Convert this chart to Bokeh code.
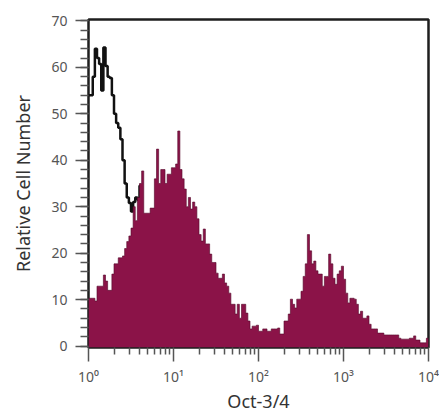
import numpy as np
from bokeh.plotting import figure
from bokeh.models import FixedTicker, SingleIntervalTicker, CustomJSTickFormatter, Range1d
from bokeh.embed import file_html
from bokeh.resources import INLINE

# ---------------- data ----------------
x_decades = (0, 4)          # 10^0 .. 10^4
n_bins = 160

oct34_counts = [
    10.3, 10.3, 10.3, 9.7, 12.9, 12.9, 12.9, 15.3, 14.0, 12.0,
    12.0, 15.5, 17.7, 17.7, 19.0, 19.0, 19.4, 21.0, 22.5, 23.7,
    25.4, 30.0, 27.0, 32.0, 35.0, 37.7, 28.6, 28.6, 28.6, 29.7,
    29.7, 36.0, 42.4, 35.0, 38.0, 38.0, 35.0, 37.0, 37.0, 38.4,
    38.4, 39.2, 46.3, 38.0, 36.0, 33.8, 30.0, 32.0, 29.5, 31.0,
    30.0, 27.4, 24.0, 22.6, 25.2, 22.0, 22.0, 19.8, 18.0, 18.0,
    15.7, 14.6, 14.6, 15.5, 13.6, 12.9, 11.4, 9.0, 9.0, 6.9,
    9.0, 6.0, 9.0, 9.0, 7.1, 5.4, 3.7, 4.3, 4.3, 4.5,
    3.2, 3.2, 3.7, 3.7, 3.2, 3.2, 3.7, 3.7, 3.7, 3.9,
    2.6, 2.6, 5.4, 5.4, 6.9, 10.1, 9.0, 8.2, 10.1, 10.1,
    11.8, 15.0, 17.7, 24.0, 20.5, 17.7, 18.3, 16.2, 15.5, 15.5,
    12.9, 15.0, 15.0, 19.8, 17.7, 14.6, 13.3, 15.5, 16.2, 17.2,
    14.4, 11.4, 9.3, 10.3, 10.3, 10.1, 9.0, 6.9, 7.5, 6.0,
    6.0, 6.5, 4.7, 3.7, 3.7, 3.7, 2.8, 2.8, 2.8, 2.4,
    2.4, 2.4, 2.4, 2.4, 2.4, 2.4, 1.7, 1.5, 1.5, 1.5,
    1.5, 1.7, 1.7, 2.2, 1.3, 1.3, 0.7, 0.7, 0.7, 1.7,
]

control_counts = [
    54.0, 54.0, 58.0, 64.0, 62.0, 60.7, 55.0, 64.3, 60.3, 58.0,
    57.7, 54.0, 50.0, 48.0, 47.0, 44.5, 40.0, 35.0, 32.0, 30.8,
    29.0, 31.0, 32.0, 31.5, 34.5, 28.0, 20.0, 14.0, 9.0, 5.0,
    3.0, 1.5, 0.5,
]

y_ticks = [0, 10, 20, 30, 40, 50, 60, 70]
x_ticks = [1, 10, 100, 1000, 10000]
x_tick_labels = ["10\u2070", "10\u00b9", "10\u00b2", "10\u00b3", "10\u2074"]
x_label = "Oct-3/4"
y_label = "Relative Cell Number"

# ---------------- derived ----------------
edges = 10 ** np.linspace(x_decades[0], x_decades[1], n_bins + 1)
oct_y = list(oct34_counts) + [oct34_counts[-1]]
ctrl_edges = edges[: len(control_counts) + 1]
ctrl_y = list(control_counts) + [control_counts[-1]]

y_start, y_end = -0.3, 70.3
MAROON = "#8B1348"
FONT = "Noto Sans"

p = figure(
    width=439, height=415,
    x_axis_type="log",
    x_range=Range1d(10 ** x_decades[0], 10 ** x_decades[1]),
    y_range=Range1d(y_start, y_end),
    output_backend="svg", toolbar_location=None,
    min_border_left=88, min_border_right=11,
    min_border_top=19, min_border_bottom=68,
)
p.grid.visible = False
p.background_fill_color = "white"
p.border_fill_color = "white"
p.outline_line_color = "#1e1e1e"
p.outline_line_width = 2.5

# control histogram (black outline), drawn first so the fill hides its lower part
p.step(x=ctrl_edges, y=ctrl_y, mode="after", line_color="#111111", line_width=2.5)

# Oct-3/4 histogram
p.varea_step(x=edges, y1=y_start, y2=oct_y, step_mode="after", fill_color=MAROON)
p.step(x=edges, y=oct_y, mode="after", line_color="#5a0b2e", line_width=0.8, line_alpha=0.8)

# x axis
xa = p.xaxis[0]
minor = [m * 10 ** k for k in range(x_decades[0], x_decades[1]) for m in range(2, 10)]
xa.ticker = FixedTicker(ticks=x_ticks, minor_ticks=minor)
xa.formatter = CustomJSTickFormatter(args=dict(labels=x_tick_labels),
                                     code="return labels[Math.round(Math.log10(tick))];")
xa.axis_line_color = None
xa.major_tick_in = 0
xa.major_tick_out = 14
xa.minor_tick_in = 0
xa.minor_tick_out = 7
xa.major_tick_line_color = "#555555"
xa.minor_tick_line_color = "#555555"
xa.major_tick_line_width = 1.5
xa.minor_tick_line_width = 1.5
xa.major_label_standoff = 5
xa.major_label_text_font = FONT
xa.major_label_text_font_size = "14px"
xa.major_label_text_color = "#555555"
xa.axis_label = x_label
xa.axis_label_text_font = FONT
xa.axis_label_text_font_size = "18px"
xa.axis_label_text_font_style = "normal"
xa.axis_label_text_color = "#333333"
xa.axis_label_standoff = 0

# y axis
ya = p.yaxis[0]
ya.ticker = SingleIntervalTicker(interval=10, num_minor_ticks=5)
ya.axis_line_color = None
ya.major_tick_in = 0
ya.major_tick_out = 13
ya.minor_tick_in = 0
ya.minor_tick_out = 8
ya.major_tick_line_color = "#555555"
ya.minor_tick_line_color = "#555555"
ya.major_tick_line_width = 1.5
ya.minor_tick_line_width = 1.5
ya.major_label_standoff = 8
ya.major_label_text_font = FONT
ya.major_label_text_font_size = "14px"
ya.major_label_text_color = "#555555"
ya.axis_label = y_label
ya.axis_label_text_font = FONT
ya.axis_label_text_font_size = "18px"
ya.axis_label_text_font_style = "normal"
ya.axis_label_text_color = "#333333"
ya.axis_label_standoff = 13

open("out.html", "w", encoding="utf-8").write(file_html(p, INLINE))
